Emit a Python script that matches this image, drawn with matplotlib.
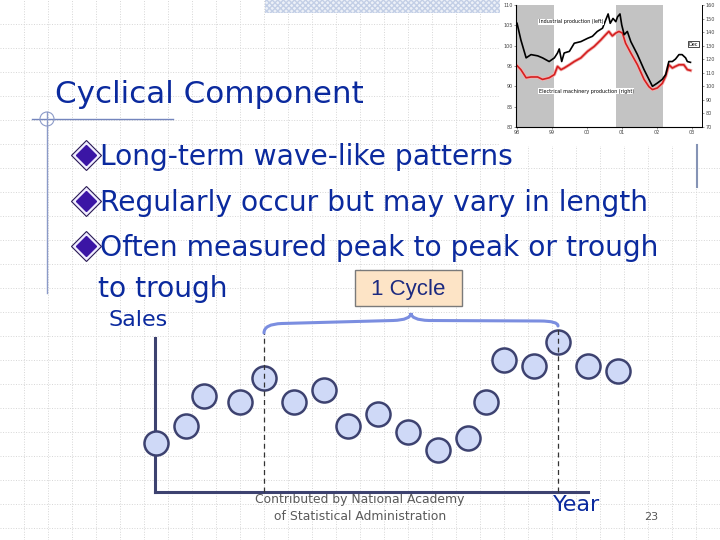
import matplotlib.pyplot as plt
import matplotlib.patheffects as pe
from matplotlib.patches import Rectangle, Circle, PathPatch
from matplotlib.path import Path

# ---- data -------------------------------------------------------------
# sales observations (x = time period, y = sales level)
periods = [0.0, 1.0, 1.6, 2.8, 3.6, 4.6, 5.6, 6.4, 7.4, 8.4, 9.4, 10.4,
           11.0, 11.6, 12.6, 13.4, 14.4, 15.4]
sales = [4.9, 6.6, 9.6, 9.0, 11.4, 9.0, 10.2, 6.6, 7.8, 6.0, 4.2, 5.4,
         9.0, 13.2, 12.6, 15.0, 12.6, 12.1]
cycle_peaks = [3.6, 13.4]

bullets = ["Long-term wave-like patterns",
           "Regularly occur but may vary in length",
           "Often measured peak to peak or trough"]

# small inset: industrial production (left) vs electrical machinery (right)
ip_year = [98.00, 98.11, 98.26, 98.40, 98.59, 98.73, 98.92, 99.07, 99.16,
           99.21, 99.28, 99.35, 99.50, 99.64, 99.83, 100.02, 100.16, 100.30,
           100.45, 100.54, 100.61, 100.67, 100.75, 100.83, 100.88, 100.95,
           101.00, 101.07, 101.16, 101.26, 101.45, 101.64, 101.78, 101.88,
           102.02, 102.16, 102.26, 102.35, 102.45, 102.54, 102.64, 102.73,
           102.83, 102.88, 102.97]
ip_value = [105.5, 101.4, 97.0, 97.8, 97.5, 97.0, 96.1, 97.0, 98.2, 99.2,
            96.1, 98.2, 98.6, 100.6, 101.0, 101.8, 102.3, 103.5, 104.3,
            106.3, 107.8, 105.5, 106.7, 105.9, 107.1, 107.8, 105.1, 102.7,
            103.5, 101.0, 97.8, 94.1, 91.7, 90.0, 90.8, 91.7, 92.9, 96.1,
            96.1, 96.7, 97.8, 97.8, 97.0, 96.1, 95.9]
em_year = [98.00, 98.11, 98.26, 98.40, 98.59, 98.73, 98.92, 99.07, 99.16,
           99.26, 99.35, 99.50, 99.64, 99.83, 100.02, 100.21, 100.40, 100.54,
           100.63, 100.73, 100.83, 100.92, 101.02, 101.11, 101.26, 101.45,
           101.64, 101.78, 101.88, 102.02, 102.16, 102.26, 102.35, 102.45,
           102.54, 102.64, 102.78, 102.88, 102.97]
em_value = [95.1, 94.1, 92.1, 92.3, 92.3, 91.7, 92.1, 92.9, 94.9, 94.1,
            94.5, 95.3, 96.1, 97.0, 98.6, 99.8, 101.4, 102.7, 103.5, 102.4,
            103.1, 103.5, 103.1, 100.6, 98.2, 95.3, 91.7, 89.9, 89.2, 89.6,
            90.7, 92.5, 95.3, 94.5, 94.9, 95.3, 95.3, 94.1, 93.9]
recessions = [(97.97, 99.05), (100.83, 102.19)]
year_ticks = [98, 99, 100, 101, 102, 103]
year_labels = ["98", "99", "00", "01", "02", "03"]
left_ticks = [80, 85, 90, 95, 100, 105, 110]
right_labels = ["70", "80", "90", "100", "110", "120", "130", "140", "150", "160"]

BLUE = "#0b2a9e"
NAVY = "#3d4270"

fig = plt.figure(figsize=(7.2, 5.4), dpi=100)

# background layer in pixel coordinates
bg = fig.add_axes([0, 0, 1, 1])
bg.set_xlim(0, 720)
bg.set_ylim(540, 0)
bg.axis("off")

for x in range(24, 720, 24):
    bg.axvline(x, color="#d6d6d6", lw=0.7, ls=":", zorder=0)
for y in range(24, 540, 24):
    bg.axhline(y, color="#d6d6d6", lw=0.7, ls=":", zorder=0)

bg.add_patch(Rectangle((500, 0), 220, 145, color="white", zorder=1))
bg.add_patch(Rectangle((265, 0), 235, 13, facecolor="#edf1f8",
                       edgecolor="#c3cfe6", hatch="xxxxxx", lw=0, zorder=1))

# title and decoration
bg.text(55, 103, "Cyclical Component", fontsize=22.3, color=BLUE,
        va="baseline", ha="left", zorder=5)
bg.plot([32, 173], [119, 119], color="#7485bd", lw=1, zorder=2)
bg.plot([47, 47], [112, 293], color="#8b9ac8", lw=1, zorder=2)
bg.add_patch(Circle((47, 119), 7, fill=False, ec="#8b9ac8", lw=0.8, zorder=2))

# bullets
for i, line in enumerate(bullets):
    yb = 155 + i * 45.7
    bg.plot(86, yb, marker="D", ms=15, mfc="#f0ecff", mec="#2a1a55",
            mew=0.8, zorder=4)
    bg.plot(86, yb, marker="D", ms=10, mfc="#3b15a5", mec="#3b15a5",
            zorder=5)
    bg.text(100, yb + 10, line, fontsize=20.25, color=BLUE, va="baseline",
            ha="left", zorder=5)
bg.text(98, 297, "to trough", fontsize=20.25, color=BLUE, va="baseline",
        ha="left", zorder=5)

# 1 Cycle box
bg.add_patch(Rectangle((355, 270), 107, 36, facecolor="#fde4c6",
                       edgecolor="#7a7a7a", lw=1, zorder=4))
bg.text(408.5, 289, "1 Cycle", fontsize=16, family="Liberation Sans",
        color="#1c2a80", ha="center", va="center", zorder=5)

bg.text(108, 320, "Sales", fontsize=16, color=BLUE, ha="left", va="center",
        zorder=5)
bg.text(553, 505, "Year", fontsize=16, color=BLUE, ha="left", va="center",
        zorder=5)
bg.text(360, 499, "Contributed by National Academy", fontsize=8.9,
        color="#5a5a5a", ha="center", va="center", zorder=5)
bg.text(360, 517, "of Statistical Administration", fontsize=8.9,
        color="#5a5a5a", ha="center", va="center", zorder=5)
bg.text(651, 517, "23", fontsize=8, color="#555555", ha="center",
        va="center", zorder=5)
bg.plot([697, 697], [145, 187], color="#8593b5", lw=1.5, zorder=2)

# ---- sales chart -------------------------------------------------------
ax = fig.add_axes([155 / 720, 48 / 540, 433 / 720, 154 / 540])
ax.patch.set_alpha(0)
ax.set_xlim(-0.033, 14.4)
ax.set_ylim(0, 15.4)
for side in ["top", "right"]:
    ax.spines[side].set_visible(False)
for side in ["left", "bottom"]:
    ax.spines[side].set_color(NAVY)
    ax.spines[side].set_linewidth(2.2)
ax.set_xticks([])
ax.set_yticks([])

ax.scatter(periods, sales, s=300, facecolor="#cfd9f7", edgecolor=NAVY,
           linewidth=1.8, zorder=3, clip_on=False)

a, b = cycle_peaks
mid = (a + b) / 2
ax.vlines(cycle_peaks, 0, [15.9, 16.6], colors="#333333", lw=0.9,
          linestyles=(0, (4, 3)), zorder=4, clip_on=False)

verts = [(a, 15.9), (a, 16.8), (a + 0.6, 16.85),
         (mid - 0.6, 17.15),
         (mid, 17.2), (mid, 17.9),
         (mid, 17.2), (mid + 0.6, 17.15),
         (b - 0.6, 17.1),
         (b, 17.1), (b, 16.6)]
codes = [Path.MOVETO, Path.CURVE3, Path.CURVE3,
         Path.LINETO,
         Path.CURVE3, Path.CURVE3,
         Path.CURVE3, Path.CURVE3,
         Path.LINETO,
         Path.CURVE3, Path.CURVE3]
ax.add_patch(PathPatch(Path(verts, codes), fill=False, ec="#7b8ee0", lw=2.2,
                       capstyle="round", clip_on=False, zorder=4))

# ---- inset chart -------------------------------------------------------
ins = fig.add_axes([516 / 720, (540 - 127) / 540, 186 / 720, 122 / 540])
ins.set_xlim(97.97, 103.3)
ins.set_ylim(80, 110)
for x0, x1 in recessions:
    ins.axvspan(x0, x1, color="#c3c3c3", lw=0)
ins.plot(em_year, em_value, color="#d42020", lw=1.2,
         path_effects=[pe.Stroke(linewidth=2.4, foreground="#f3b0b0"), pe.Normal()])
ins.plot(ip_year, ip_value, color="black", lw=1.2)
ins.spines["top"].set_visible(False)
for side in ["left", "right", "bottom"]:
    ins.spines[side].set_linewidth(0.6)
ins.set_xticks(year_ticks)
ins.set_xticklabels(year_labels)
ins.set_yticks(left_ticks)
ins.tick_params(labelsize=3.5, length=1.5, width=0.4, pad=1, colors="#444444")
ins2 = ins.twinx()
ins2.set_ylim(0, 9)
ins2.set_yticks(range(10))
ins2.set_yticklabels(right_labels)
ins2.tick_params(labelsize=3.5, length=1.5, width=0.4, pad=1, colors="#444444")
ins2.spines["top"].set_visible(False)
ins2.spines["right"].set_linewidth(0.6)
ins.text(98.62, 105.9, "Industrial production (left)", fontsize=3.5,
         va="center", bbox=dict(fc="white", ec="none", pad=0.3))
ins.text(98.62, 88.8, "Electrical machinery production (right)", fontsize=3.5,
         va="center", bbox=dict(fc="white", ec="none", pad=0.3))
ins.text(102.92, 100.4, "Dec", fontsize=3.5, va="center",
         bbox=dict(fc="white", ec="black", lw=0.5, pad=0.6))

fig.savefig("out.png", dpi=100)
